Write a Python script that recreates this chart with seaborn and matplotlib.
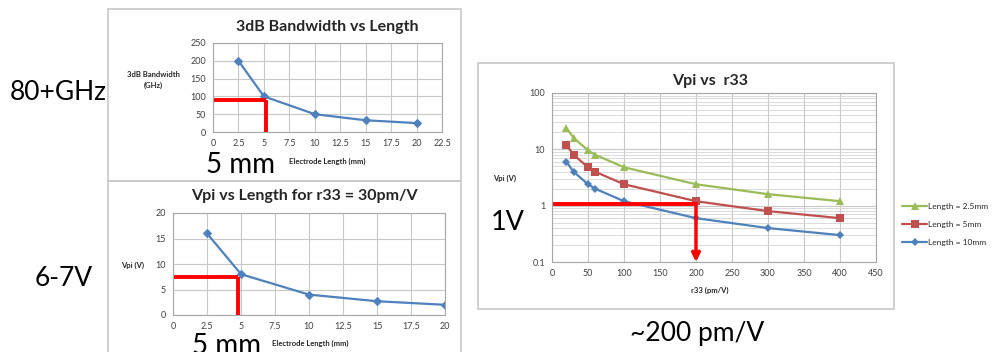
import matplotlib
matplotlib.use("Agg")
import numpy as np
import pandas as pd
import matplotlib.pyplot as plt
import seaborn as sns
from matplotlib.patches import Rectangle
from matplotlib.ticker import FuncFormatter, MultipleLocator, LogLocator

# Data
length_mm = [2.5, 5, 10, 15, 20]
bandwidth_ghz = [200, 100, 50, 33, 25]
vpi_vs_length = [16, 8, 4, 2.7, 2]

r33 = [20, 30, 50, 60, 100, 200, 300, 400]
vpi_25mm = [24, 16, 9.6, 8, 4.8, 2.4, 1.6, 1.2]
vpi_5mm = [12, 8, 4.8, 4, 2.4, 1.2, 0.8, 0.6]
vpi_10mm = [6, 4, 2.4, 2, 1.2, 0.6, 0.4, 0.3]
series_names = ['Length = 2.5mm', 'Length = 5mm', 'Length = 10mm']

# red guide lines (x, y) on each chart
bw_guide = (5.2, 90)
vl_guide = (4.8, 7.5)
r33_guide = (200, 1.08)

sns.set_style("white")
plt.rcParams['font.family'] = ['Lato', 'DejaVu Sans']

W, H = 993, 352
fig = plt.figure(figsize=(W / 100, H / 100), dpi=100)

BLUE, RED, GREEN = '#4F81BD', '#C0504D', '#9BBB59'
GRID = '#c8c8c8'
fmt = FuncFormatter(lambda v, p: f'{v:g}')


def px_axes(x0, y0, x1, y1):
    return fig.add_axes([x0 / W, 1 - y1 / H, (x1 - x0) / W, (y1 - y0) / H])


def frame(x0, y0, x1, y1):
    fig.add_artist(Rectangle((x0 / W, 1 - y1 / H), (x1 - x0) / W, (y1 - y0) / H,
                             transform=fig.transFigure, fill=False,
                             ec='#c8c8c8', lw=1.2))


def style_ax(ax):
    ax.grid(True, which='major', color=GRID, lw=0.8)
    for s in ax.spines.values():
        s.set_color('#a6a6a6')
        s.set_linewidth(0.8)
    ax.tick_params(length=0, labelsize=6.5, colors='#404040', pad=5)
    ax.xaxis.set_major_formatter(fmt)
    ax.yaxis.set_major_formatter(fmt)
    ax.set_xlabel('')
    ax.set_ylabel('')


def txt(x, y, s, **kw):
    fig.text(x / W, 1 - y / H, s, ha='center', va='center', **kw)


frame(108, 9, 461, 181)
frame(108, 181, 461, 380)
frame(478, 63, 894, 309)

# Chart 1: 3dB bandwidth vs length
ax1 = px_axes(213, 43, 442, 132)
sns.lineplot(x=length_mm, y=bandwidth_ghz, ax=ax1, color=BLUE, lw=1.6,
             marker='D', markersize=4, markeredgecolor=BLUE)
ax1.set_xlim(0, 22.5)
ax1.set_ylim(0, 250)
ax1.xaxis.set_major_locator(MultipleLocator(2.5))
ax1.yaxis.set_major_locator(MultipleLocator(50))
style_ax(ax1)
ax1.plot([0, bw_guide[0]], [bw_guide[1]] * 2, color='red', lw=2.8, solid_capstyle='butt', clip_on=False)
ax1.plot([bw_guide[0]] * 2, [bw_guide[1], 0], color='red', lw=2.8, solid_capstyle='butt', clip_on=False)
txt(327, 27, '3dB Bandwidth vs Length', fontsize=11.5, fontweight='bold', color='#262626')
txt(153, 80, '3dB Bandwidth\n(GHz)', fontsize=5.5, fontweight='bold', color='#262626', linespacing=1.6)
txt(327, 161, 'Electrode Length (mm)', fontsize=5.5, fontweight='bold', color='#262626')
txt(241, 165, '5 mm', fontsize=20, color='black')

# Chart 2: Vpi vs length
ax2 = px_axes(173, 213, 445, 315)
sns.lineplot(x=length_mm, y=vpi_vs_length, ax=ax2, color=BLUE, lw=1.6,
             marker='D', markersize=4, markeredgecolor=BLUE)
ax2.set_xlim(0, 20)
ax2.set_ylim(0, 20)
ax2.xaxis.set_major_locator(MultipleLocator(2.5))
ax2.yaxis.set_major_locator(MultipleLocator(5))
style_ax(ax2)
ax2.plot([0, vl_guide[0]], [vl_guide[1]] * 2, color='red', lw=2.8, solid_capstyle='butt', clip_on=False)
ax2.plot([vl_guide[0]] * 2, [vl_guide[1], 0], color='red', lw=2.8, solid_capstyle='butt', clip_on=False)
txt(304, 196, 'Vpi vs Length for r33 = 30pm/V', fontsize=11.5, fontweight='bold', color='#262626')
txt(133, 265, 'Vpi (V)', fontsize=5.5, fontweight='bold', color='#262626')
txt(310, 343, 'Electrode Length (mm)', fontsize=5.5, fontweight='bold', color='#262626')
txt(227, 346, '5 mm', fontsize=20, color='black')

# Chart 3: Vpi vs r33 (log)
df = pd.concat([
    pd.DataFrame({'r33': r33, 'vpi': vals, 'series': name})
    for name, vals in zip(series_names, [vpi_25mm, vpi_5mm, vpi_10mm])
])
ax3 = px_axes(552, 93, 876, 262)
sns.lineplot(data=df, x='r33', y='vpi', hue='series', style='series', ax=ax3,
             palette=[GREEN, RED, BLUE], markers=['^', 's', 'D'], dashes=False,
             lw=1.6, markersize=6, markeredgewidth=0)
ax3.lines[2].set_markersize(4)
ax3.set_yscale('log')
ax3.set_xlim(0, 450)
ax3.set_ylim(0.1, 100)
ax3.xaxis.set_major_locator(MultipleLocator(50))
ax3.yaxis.set_minor_locator(LogLocator(base=10, subs=np.arange(2, 10)))
style_ax(ax3)
ax3.grid(True, which='minor', axis='y', color='#d4d4d4', lw=0.6)
ax3.tick_params(which='minor', length=0)
handles, labels = ax3.get_legend_handles_labels()
ax3.get_legend().remove()
handles[2].set_markersize(4)
fig.legend(handles, labels, loc='upper left', bbox_to_anchor=(899 / W, 1 - 200 / H),
           frameon=False, fontsize=6, handlelength=3.0, handletextpad=0.1,
           labelspacing=1.3, borderaxespad=0)
ax3.plot([0, r33_guide[0]], [r33_guide[1]] * 2, color='red', lw=2.8, solid_capstyle='butt', clip_on=False)
ax3.annotate('', xy=(r33_guide[0], 0.1), xytext=(r33_guide[0], r33_guide[1]),
             arrowprops=dict(arrowstyle='-|>', color='red', lw=2.5, mutation_scale=12,
                             shrinkA=0, shrinkB=0), annotation_clip=False)
txt(710, 81, 'Vpi vs  r33', fontsize=11.5, fontweight='bold', color='#262626')
txt(505, 178, 'Vpi (V)', fontsize=5.5, fontweight='bold', color='#262626')
txt(710, 290, 'r33 (pm/V)', fontsize=5.5, fontweight='bold', color='#262626')

# Big annotations
txt(58, 92, '80+GHz', fontsize=19, color='black')
txt(64, 278, '6-7V', fontsize=19, color='black')
txt(508, 222, '1V', fontsize=19.5, color='black')
txt(697, 333, '~200 pm/V', fontsize=19, color='black')

fig.savefig('out.png', dpi=100)
